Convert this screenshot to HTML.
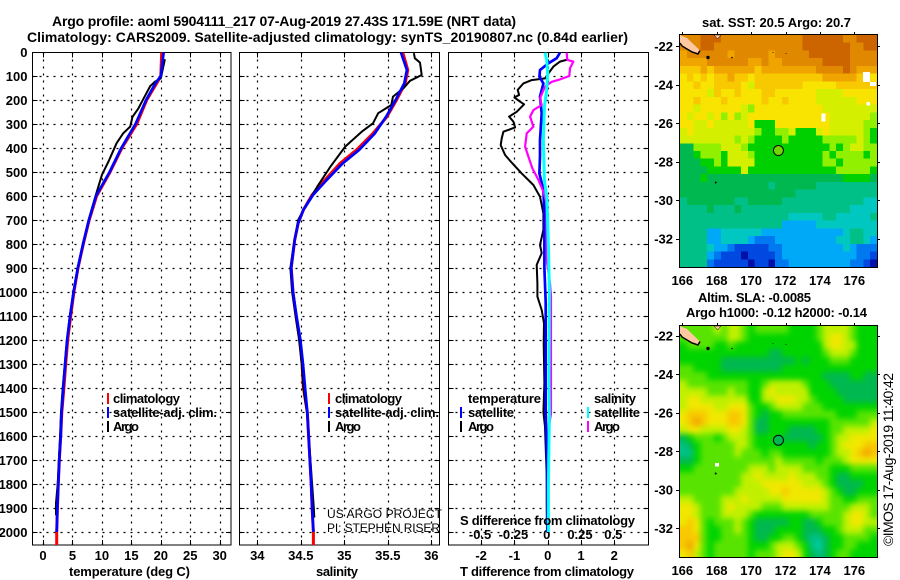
<!DOCTYPE html>
<html lang="en">
<head>
<meta charset="utf-8">
<title>Argo profile aoml 5904111_217</title>
<style>
html,body{margin:0;padding:0;background:#fff;}
svg{display:block;}
text{font-family:"Liberation Sans",sans-serif;fill:#000;}
.b{font-weight:bold;font-size:13px;}
.r{font-size:13px;}
</style>
</head>
<body>
<svg id="chart" xmlns="http://www.w3.org/2000/svg" width="900" height="580" viewBox="0 0 900 580">
  <rect width="900" height="580" fill="#fff"/>
  <defs>
    <clipPath id="clip-temp"><rect x="32.5" y="52.5" width="198.5" height="492.5"/></clipPath>
    <clipPath id="clip-sal"><rect x="239.5" y="52.5" width="200" height="492.5"/></clipPath>
    <clipPath id="clip-diff"><rect x="448.5" y="52.5" width="200" height="492.5"/></clipPath>
    <clipPath id="clip-map-sst"><rect x="680" y="35" width="197" height="232"/></clipPath>
    <clipPath id="clip-map-sla"><rect x="680" y="326" width="197" height="231"/></clipPath>
    <filter id="soft" x="-5%" y="-5%" width="110%" height="110%" color-interpolation-filters="sRGB"><feGaussianBlur stdDeviation="3"/></filter>
  </defs>
  <text class="b" x="52" y="26" style="font-size:14px" textLength="464">Argo profile: aoml 5904111_217 07-Aug-2019 27.43S 171.59E (NRT data)</text>
  <text class="b" x="27" y="42" style="font-size:14px" textLength="601">Climatology: CARS2009. Satellite-adjusted climatology: synTS_20190807.nc (0.84d earlier)</text>

  <g id="grids"></g>
  <g id="lines"></g>
  <g id="maps"></g>

  <text class="b" x="69" y="576" textLength="121">temperature (deg C)</text>
  <text class="b" x="316" y="576" textLength="42">salinity</text>
  <text class="b" x="460" y="576" textLength="174">T difference from climatology</text>
  <text class="b" x="460" y="525" textLength="175">S difference from climatology</text>

  <g>
    <rect x="107" y="393" width="2" height="11" fill="#f00"/>
    <text class="b" x="113" y="403" textLength="67">climatology</text>
    <rect x="107" y="407" width="2" height="11" fill="#00f"/>
    <text class="b" x="113" y="417" textLength="104">satellite-adj. clim.</text>
    <rect x="107" y="421" width="2" height="11" fill="#000"/>
    <text class="b" x="113" y="431" textLength="26">Argo</text>
  </g>
  <g>
    <rect x="328" y="393" width="2" height="11" fill="#f00"/>
    <text class="b" x="335" y="403" textLength="67">climatology</text>
    <rect x="328" y="407" width="2" height="11" fill="#00f"/>
    <text class="b" x="335" y="417" textLength="104">satellite-adj. clim.</text>
    <rect x="328" y="421" width="2" height="11" fill="#000"/>
    <text class="b" x="335" y="431" textLength="26">Argo</text>
  </g>
  <g>
    <text class="b" x="468" y="403" textLength="73">temperature</text>
    <text class="b" x="594" y="403" textLength="42">salinity</text>
    <rect x="460" y="407" width="2" height="11" fill="#00f"/>
    <text class="b" x="468" y="417" textLength="46">satellite</text>
    <rect x="460" y="421" width="2" height="11" fill="#000"/>
    <text class="b" x="468" y="431" textLength="26">Argo</text>
    <rect x="587" y="407" width="2" height="11" fill="#0ff"/>
    <text class="b" x="594" y="417" textLength="46">satellite</text>
    <rect x="587" y="421" width="2" height="11" fill="#f0f"/>
    <text class="b" x="594" y="431" textLength="26">Argo</text>
  </g>
  <text class="r" style="font-size:12px" x="327" y="518" textLength="115">US ARGO PROJECT</text>
  <text class="r" style="font-size:12px" x="327" y="532" textLength="113">PI: STEPHEN RISER</text>

  <text class="b" x="702" y="27" textLength="149">sat. SST: 20.5 Argo: 20.7</text>
  <text class="b" x="698" y="302" textLength="113">Altim. SLA: -0.0085</text>
  <text class="b" x="686" y="317" textLength="181">Argo h1000: -0.12 h2000: -0.14</text>
  <text class="r" style="font-size:14px" transform="translate(893 546) rotate(-90)" x="0" y="0" textLength="173">©IMOS 17-Aug-2019 11:40:42</text>
</svg>
<script>
/* ---------- profile data ---------- */
const tempDepthArgo = [30,110,124,142,193,235,270,311,339,380,457,512,610,700,800,900,1000,1100,1200,1300,1400,1500,1600,1700,1800,1880,1930];
const tempArgo = [20.7,20.0,19.0,18.2,17.1,16.2,15.2,14.8,13.6,12.5,11.1,10.0,8.8,7.75,6.75,5.9,5.15,4.55,4.05,3.7,3.35,3.05,2.9,2.7,2.5,2.2,2.2];
const tempDepthClim = [0,100,130,200,300,400,500,600,700,800,900,1000,1100,1200,1300,1400,1500,1600,1700,1800,1900,2000,2054];
const tempClim = [20.15,20.0,19.3,17.6,15.9,13.4,11.4,9.1,7.85,6.85,5.95,5.25,4.7,4.2,3.85,3.55,3.2,3.0,2.77,2.6,2.45,2.33,2.33];
const tempDepthSat = [0,100,130,200,300,400,500,600,700,800,900,1000,1100,1200,1300,1400,1500,1600,1700,1800,1900,2000];
const tempSat = [20.5,20.0,19.1,17.5,15.7,13.3,11.3,9.0,7.8,6.8,5.9,5.2,4.6,4.1,3.75,3.45,3.15,3.0,2.77,2.6,2.45,2.33];

const salDepthArgo = [5,26,44,96,120,151,186,221,255,297,332,394,478,561,645,700,800,900,1000,1100,1200,1300,1400,1500,1600,1700,1800,1900,1940];
const salArgo = [35.80,35.81,35.87,35.89,35.755,35.68,35.56,35.54,35.39,35.33,35.2,35.01,34.84,34.69,34.55,34.47,34.42,34.38,34.40,34.44,34.48,34.51,34.53,34.57,34.59,34.61,34.63,34.65,34.655];
const salDepthClim = [0,75,130,200,270,339,408,464,540,596,658,713,783,900,1000,1100,1200,1300,1400,1500,1600,1700,1800,1900,2000,2054];
const salClim = [35.67,35.73,35.70,35.60,35.49,35.33,35.14,34.95,34.76,34.63,34.53,34.47,34.43,34.39,34.41,34.445,34.49,34.515,34.53,34.575,34.59,34.605,34.62,34.63,34.645,34.645];
const salDepthSat = [0,75,130,200,270,339,408,464,540,596,658,713,783,900,1000,1100,1200,1300,1400,1500,1600,1700,1800,1900,2000];
const salSat = [35.65,35.72,35.69,35.59,35.48,35.35,35.17,34.98,34.78,34.64,34.53,34.47,34.43,34.39,34.41,34.45,34.495,34.525,34.55,34.575,34.59,34.605,34.62,34.63,34.645];

const diffDepthTArgo = [31,40,61,89,110,117,131,158,179,189,207,218,249,269,290,314,332,360,388,429,461,506,554,603,672,741,804,838,887,964,1019,1075,1130,1214,1380,1500,1561,1610,1763,1900,2000];
const diffTArgo = [0.62,0.37,0.17,0.02,-0.08,-0.48,-0.73,-0.9,-0.86,-1.0,-0.83,-0.71,-0.93,-1.16,-1.03,-0.98,-1.33,-1.38,-1.41,-1.28,-1.08,-0.78,-0.43,-0.23,-0.13,-0.13,-0.23,-0.18,-0.33,-0.31,-0.31,-0.18,-0.11,-0.12,-0.10,-0.13,-0.08,-0.07,-0.03,-0.03,-0.02];
const diffDepthTSat = [3,26,47,75,103,131,186,256,367,436,506,575,672,783,900,1044,1214,1500,1714,1900,2000];
const diffTSat = [0.37,0.27,0.02,-0.23,-0.25,-0.13,-0.23,-0.18,-0.23,-0.23,-0.25,-0.13,-0.10,-0.10,-0.10,-0.06,-0.06,-0.06,-0.02,-0.01,-0.01];
const diffDepthSArgo = [3,33,40,68,100,114,124,144,193,221,242,269,311,339,394,436,485,533,582,631,867,964,1019,1380,1506,1560,1700];
const diffSArgo = [0.1425,0.1475,0.1925,0.1675,0.1625,0.0925,0.03,-0.02,-0.0575,-0.045,-0.1075,-0.1325,-0.1075,-0.1575,-0.17,-0.145,-0.115,-0.07,-0.0325,-0.0075,-0.0075,0.0175,0.025,0.025,0.025,0.01,0.005];
const diffDepthSSat = [3,33,89,158,228,367,533,617,805,1000,1380,1506,1800,2000];
const diffSSat = [-0.02,-0.0075,0,-0.0075,-0.025,-0.0325,-0.025,-0.005,0.005,0.0125,0.01,0.0125,0.005,0.005];

const depthTicks = [0,100,200,300,400,500,600,700,800,900,1000,1100,1200,1300,1400,1500,1600,1700,1800,1900,2000];
const tempTicks = [0,5,10,15,20,25,30];
const salTicks = [34,34.5,35,35.5,36];
const salTickLabels = ["34","34.5","35","35.5","36"];
const diffTTicks = [-2,-1,0,1,2];
const diffSTicks = [-0.5,-0.25,0,0.25,0.5];
const diffSTickLabels = ["-0.5","-0.25","0","0.25","0.5"];
const lonTicks = [166,168,170,172,174,176];
const latTicks = [-22,-24,-26,-28,-30,-32];

/* ---------- map data: colour-level values per cell ---------- */
const sstGrid = [
[13,13,13,14,14,14,13,13,13,13,13,13,13,13,13,13,13,13,14,14,14,14,14,14,13,13,14,14,14],
[13,13,13,14,14,13,13,13,13,13,13,13,13,13,13,13,13,13,14,14,14,14,14,14,14,13,13,14,14],
[12,13,13,13,13,13,13,12,13,13,13,13,13,12,13,13,13,13,13,14,14,14,14,14,14,13,13,13,13],
[12,12,12,12,13,13,13,13,13,13,12,12,13,12,12,13,13,13,13,13,13,14,14,14,14,13,13,13,13],
[11,11,11,12,11,12,12,12,12,12,12,11,12,12,12,12,12,12,12,12,13,13,13,13,14,13,12,12,12],
[10,11,10,11,10,11,11,12,11,11,10,11,11,11,11,11,11,11,11,11,11,12,12,12,12,12,11,11,10],
[10,10,11,10,10,11,11,11,11,10,9,11,11,11,11,11,11,11,10,10,10,10,10,11,11,11,11,11,11],
[10,10,10,10,9,11,10,10,11,10,10,10,11,11,10,10,10,10,10,10,9,9,9,9,10,10,10,10,10],
[10,10,11,10,10,10,11,10,10,10,10,10,11,10,10,11,10,10,10,10,9,9,9,9,9,9,10,10,10],
[10,10,9,10,10,10,10,10,10,9,8,10,10,10,10,10,10,10,10,10,10,9,9,9,9,9,9,9,9],
[10,9,10,10,9,10,8,10,8,9,10,10,10,10,10,10,10,10,10,10,10,10,9,9,9,9,9,9,8],
[10,10,9,9,10,9,9,9,9,9,10,7,7,7,10,10,10,10,10,10,10,10,9,9,9,9,9,8,8],
[9,10,9,9,9,9,9,9,9,9,9,8,7,7,8,8,9,7,7,7,9,10,9,9,9,9,9,8,7],
[9,9,9,9,9,9,9,9,8,9,8,7,7,7,7,8,7,7,7,7,7,8,8,8,8,8,9,8,7],
[6,6,8,8,8,8,9,9,9,8,7,7,7,7,7,7,7,7,7,7,7,7,8,7,8,9,9,8,8],
[6,6,7,8,8,8,7,9,9,9,8,7,7,7,7,7,7,7,7,7,7,8,7,8,8,8,8,7,8],
[6,6,6,7,7,8,7,9,9,9,9,7,7,7,7,7,7,7,7,7,7,8,8,7,8,8,8,8,8],
[6,6,6,6,7,7,7,7,7,9,7,7,7,7,7,7,7,7,7,7,7,7,7,8,8,8,8,8,7],
[6,6,6,7,6,6,6,6,6,6,6,6,6,6,6,6,6,6,6,6,6,6,6,6,7,7,7,7,6],
[6,6,6,6,6,6,6,6,6,6,6,6,6,5,6,6,6,6,6,6,5,5,5,5,5,5,5,5,5],
[6,6,6,6,6,6,6,6,6,6,6,6,6,6,6,6,6,5,5,5,5,5,5,5,5,5,5,5,5],
[5,6,6,6,6,6,6,6,5,5,6,6,6,6,6,5,5,5,5,5,5,5,5,5,5,5,5,4,4],
[5,5,5,5,6,5,5,5,6,5,5,5,5,5,5,5,5,5,5,5,5,5,5,5,5,4,4,4,4],
[5,5,5,5,5,5,5,5,5,5,5,5,5,5,5,5,4,4,4,4,4,5,5,4,4,4,4,4,5],
[5,5,5,5,5,5,5,5,5,5,5,5,5,5,5,3,3,3,3,3,4,4,4,4,4,4,4,4,4],
[5,5,5,5,3,3,4,4,4,4,4,4,3,3,3,3,3,3,3,3,3,3,3,3,4,5,5,4,4],
[5,5,5,5,3,3,4,4,4,4,3,2,2,2,3,3,3,3,3,3,3,3,3,4,4,5,5,4,3],
[5,5,5,5,4,3,3,2,1,1,1,1,1,2,2,3,3,3,3,3,3,3,3,3,4,3,2,2,2],
[5,5,5,5,3,2,1,1,1,0,1,1,1,1,2,3,3,3,3,3,3,3,3,3,3,3,2,2,1],
[5,5,5,5,2,1,1,1,1,1,0,1,1,0,2,2,3,3,3,3,3,3,3,3,3,2,2,1,0]
];
const slaGrid = [
[8,8,8,8,8,9,8,9,9,8,7,8,8,8,8,8,7,7,7,7,8,9,9,9,9,8,7,7,7],
[8,8,8,8,8,8,8,9,9,8,7,7,7,7,7,7,7,7,7,7,8,9,10,10,9,8,7,7,7],
[7,8,8,8,8,7,7,8,7,7,7,7,7,7,7,7,7,7,7,7,7,9,10,10,9,9,7,7,7],
[7,7,7,7,7,7,7,7,7,7,7,7,7,6,6,7,7,7,7,7,7,8,9,9,9,8,7,7,7],
[7,7,7,7,7,7,6,6,6,6,6,6,6,6,6,6,6,7,6,7,7,7,8,8,8,7,7,7,7],
[8,8,7,7,7,7,6,6,6,6,6,6,6,6,6,7,7,7,7,7,7,7,7,7,7,7,7,7,7],
[8,8,8,8,7,7,7,7,7,7,7,7,7,7,7,7,7,7,7,7,7,6,6,6,6,7,7,6,6],
[9,8,8,8,8,8,8,8,8,8,7,7,8,9,9,9,9,9,8,7,7,7,6,6,6,6,6,6,6],
[9,9,9,9,8,8,8,9,8,8,7,7,9,10,9,9,9,9,9,7,7,7,7,6,6,6,6,6,6],
[9,10,10,9,9,9,9,9,9,9,7,7,9,9,10,10,10,9,9,8,7,7,7,7,6,6,6,6,6],
[9,10,10,10,10,9,9,10,10,10,8,7,7,8,9,9,9,9,8,8,8,7,7,7,7,7,7,7,7],
[10,11,11,11,10,10,10,11,11,10,8,7,6,7,7,8,8,8,8,8,8,8,8,7,7,7,8,8,8],
[10,11,12,11,10,10,10,11,11,10,8,6,6,7,7,7,7,7,7,7,7,7,8,8,8,8,8,8,9],
[9,10,10,9,9,9,9,10,10,9,8,6,6,7,7,7,6,6,6,6,7,7,8,8,9,9,9,9,10],
[6,7,8,8,8,7,8,9,9,9,8,7,7,7,7,6,6,6,6,6,6,7,8,9,9,10,10,10,10],
[5,6,7,8,8,8,8,8,9,9,8,7,7,7,7,7,7,7,7,6,7,7,8,9,10,10,10,11,11],
[5,5,7,8,8,8,8,8,9,8,8,8,7,8,8,7,7,7,7,7,7,7,8,9,9,10,11,12,11],
[6,6,7,8,8,8,8,8,8,8,8,8,8,8,9,8,8,8,8,8,7,8,8,8,9,10,10,10,10],
[7,7,8,8,8,8,8,8,8,8,9,9,9,8,9,9,9,9,8,8,8,8,7,7,7,8,8,8,8],
[8,8,8,8,8,8,8,8,8,9,9,10,9,9,9,9,10,9,9,9,8,8,7,6,6,7,7,7,7],
[8,8,8,8,8,8,8,8,8,9,9,9,10,10,10,10,10,10,9,9,9,8,7,6,6,6,6,7,7],
[8,8,8,8,8,8,8,8,9,9,9,9,9,10,10,11,10,10,10,10,10,9,8,7,6,6,7,7,7],
[9,9,8,8,8,8,9,9,9,10,9,9,9,9,9,10,10,10,10,10,10,9,8,8,7,7,8,8,8],
[10,10,9,8,8,8,9,10,9,9,9,9,8,8,8,9,9,9,9,9,9,9,8,8,8,9,9,9,8],
[10,10,9,8,8,8,9,9,9,9,8,7,7,7,7,7,7,7,7,8,8,8,8,8,9,10,10,9,8],
[10,11,10,8,7,8,8,8,9,8,7,6,6,6,6,6,7,7,6,6,7,8,8,8,9,10,10,9,9],
[11,11,10,8,7,7,8,8,9,8,7,6,6,6,7,7,7,7,6,6,6,7,7,8,9,9,9,8,8],
[11,11,11,8,7,7,8,8,8,8,7,6,6,7,7,8,8,7,6,5,5,6,7,7,8,8,8,8,7],
[11,12,10,8,7,8,8,8,8,8,7,7,7,8,9,9,9,8,7,5,4,6,7,7,8,8,7,7,7],
[10,11,9,8,7,8,8,8,8,8,7,8,8,8,9,10,10,9,7,6,5,6,7,8,8,7,7,7,7]
];
const sstColors = ["#0010a8","#0048e0","#0078f0","#00a8f8","#00c8c0","#00c088","#00b850","#00d000","#90f000","#d4f000","#f8e400","#f8c800","#f0a400","#e08800","#cc6400"];
const slaColors = ["#0010a8","#0048e0","#0078f0","#00a8f8","#00d0a8","#00c088","#00b850","#00d400","#58e400","#c0f000","#f0e800","#f8c800","#f0a400","#e08800","#cc6400"];
/* cloud gaps in the SST field: [west lon, north lat, lon extent, lat extent] */
const sstGaps = [[176.5,-23.35,0.4,0.52],[176.9,-23.87,0.35,0.2],[176.72,-24.9,0.18,0.2],[174.1,-25.5,0.23,0.42]];
const slaGaps = [[167.9,-28.6,0.22,0.2]];

/* ---------- axis functions ---------- */
const NS = "http://www.w3.org/2000/svg";
const depthY = d => 52 + d * 0.24;
const tempX = t => 43 + t * 5.89;
const salX = s => 257.3 + (s - 34) * 87;
const diffTX = t => 547.7 + t * 33.3;
const diffSX = s => 547.7 + s * 133.2;

const grids = document.getElementById("grids");
const lines = document.getElementById("lines");
const maps = document.getElementById("maps");

function make(tag, attrs, parent) {
  const el = document.createElementNS(NS, tag);
  for (const k in attrs) el.setAttribute(k, attrs[k]);
  parent.appendChild(el);
  return el;
}

function drawPanel(left, right, xPositions, xLabels, labelDepths) {
  const top = 52.5, bottom = 545;
  const g = make("g", {}, grids);
  
  
  depthTicks.forEach(d => {
    const y = Math.round(depthY(d)) + 0.5;
    if (d > 0) {
      const gl = make("line", {x1:left, x2:right, y1:y, y2:y, stroke:"#000", "stroke-width":1.2, "stroke-dasharray":"2 5"}, g);
      
      
      const t1 = make("line", {x1:left, x2:left+5, y1:y, y2:y, stroke:"#000", "shape-rendering":"crispEdges"}, g);
      
      
      const t2 = make("line", {x1:right-5, x2:right, y1:y, y2:y, stroke:"#000", "shape-rendering":"crispEdges"}, g);
      
      
    }
    if (labelDepths) {
      const lb = make("text", {x:27.5, y:depthY(d)+5, "text-anchor":"end", class:"b"}, g);
      
      
      lb.textContent = String(d);
    }
  });
  xPositions.forEach((x, i) => {
    const px = Math.round(x) + 0.5;
    const gl = make("line", {x1:px, x2:px, y1:top, y2:bottom, stroke:"#000", "stroke-width":1.2, "stroke-dasharray":"2 5"}, g);
    
    
    const t1 = make("line", {x1:px, x2:px, y1:bottom-5, y2:bottom, stroke:"#000", "shape-rendering":"crispEdges"}, g);
    
    
    const t2 = make("line", {x1:px, x2:px, y1:top, y2:top+5, stroke:"#000", "shape-rendering":"crispEdges"}, g);
    
    
    const lb = make("text", {x:x, y:560, "text-anchor":"middle", class:"b"}, g);
    
    
    lb.textContent = xLabels[i];
  });
  const frame = make("rect", {x:left, y:top, width:right-left, height:bottom-top, fill:"none", stroke:"#000", "stroke-width":1, "shape-rendering":"crispEdges"}, g);
  
  
}

function drawSeries(name, depths, values, xFn, color, width, clip) {
  const pts = depths.map((d, i) => xFn(values[i]).toFixed(1) + "," + depthY(d).toFixed(1)).join(" ");
  const el = make("polyline", {points:pts, fill:"none", stroke:color, "stroke-width":width, "clip-path":"url(#"+clip+")", "stroke-linejoin":"round"}, lines);
  
  
}

drawPanel(32.5, 231, tempTicks.map(tempX), tempTicks.map(String), true);
drawPanel(239.5, 439.5, salTicks.map(salX), salTickLabels, false);
drawPanel(448.5, 648.5, diffTTicks.map(diffTX), diffTTicks.map(String), false);

diffSTicks.forEach((s, i) => {
  const lb = make("text", {x:diffSX(s)-1, y:539, "text-anchor":"middle", class:"b"}, grids);
  
  
  lb.textContent = diffSTickLabels[i];
});

drawSeries("temperature-climatology-line", tempDepthClim, tempClim, tempX, "#f00", 3, "clip-temp");
drawSeries("temperature-argo-line", tempDepthArgo, tempArgo, tempX, "#000", 2, "clip-temp");
drawSeries("temperature-satellite-line", tempDepthSat, tempSat, tempX, "#00f", 2.7, "clip-temp");

drawSeries("salinity-climatology-line", salDepthClim, salClim, salX, "#f00", 3, "clip-sal");
drawSeries("salinity-argo-line", salDepthArgo, salArgo, salX, "#000", 2, "clip-sal");
drawSeries("salinity-satellite-line", salDepthSat, salSat, salX, "#00f", 2.7, "clip-sal");

drawSeries("t-difference-argo-line", diffDepthTArgo, diffTArgo, diffTX, "#000", 2, "clip-diff");
drawSeries("t-difference-satellite-line", diffDepthTSat, diffTSat, diffTX, "#00f", 2.7, "clip-diff");
drawSeries("s-difference-argo-line", diffDepthSArgo, diffSArgo, diffSX, "#f0f", 2.2, "clip-diff");
drawSeries("s-difference-satellite-line", diffDepthSSat, diffSSat, diffSX, "#0ff", 3, "clip-diff");

/* ---------- maps ---------- */
const mapLeft = 680, mapRight = 877;
const lonX = lon => 682.3 + (lon - 166) * 17.2;
const lonStep = (mapRight - mapLeft) / 17.2 / 29;

function drawMap(name, grid, colors, gaps, top, bottom, lat22Y, markerColor, clipId, smooth) {
  const pxPerDeg = 19.25;
  const latY = lat => lat22Y + (-22 - lat) * pxPerDeg;
  const lonStart = 166 + (mapLeft - 682.3) / 17.2;
  const latStart = -22 - (top - lat22Y) / pxPerDeg;
  const latStep = (bottom - top) / pxPerDeg / grid.length;
  const g = make("g", {}, maps);
  
  
  const clipG = make("g", {"clip-path":"url(#"+clipId+")"}, g);
  
  
  const field = make("g", smooth ? {filter:"url(#soft)"} : {}, clipG);
  
  
  const lastRow = grid.length - 1;
  grid.forEach((row, r) => {
    const lastCol = row.length - 1;
    row.forEach((v, c) => {
      let x0 = lonX(lonStart + c * lonStep), x1 = lonX(lonStart + (c + 1) * lonStep);
      let y0 = latY(latStart - r * latStep), y1 = latY(latStart - (r + 1) * latStep);
      if (c === 0) x0 -= 14;
      if (c === lastCol) x1 += 14;
      if (r === 0) y0 -= 14;
      if (r === lastRow) y1 += 14;
      const cell = make("rect", {x:x0, y:y0, width:x1-x0+0.4, height:y1-y0+0.4, fill:colors[v], "shape-rendering":"crispEdges"}, field);
      
      
    });
  });
  gaps.forEach(b => {
    const gap = make("rect", {x:lonX(b[0]), y:latY(b[1]), width:b[2]*17.2, height:b[3]*pxPerDeg, fill:"#fff", "shape-rendering":"crispEdges"}, clipG);
    
    
  });
  const dy = top - 35;
  const island = make("polygon", {points:`${mapLeft},${35+dy} ${687},${38+dy} ${700},${50.5+dy} ${698},${54+dy} ${692},${52+dy} ${682},${46+dy} ${mapLeft},${43+dy}`, fill:"#ffc8a0"}, clipG);
  
  
  const shore = make("polyline", {points:`${mapLeft},${43+dy} ${682},${46+dy} ${692},${52+dy} ${698},${54+dy} ${700},${50.5+dy}`, fill:"none", stroke:"#000", "stroke-width":1.5}, clipG);
  
  
  const islet = make("polygon", {points:`${714},${top} ${721},${top} ${717.5},${top+4}`, fill:"#ffc8a0", stroke:"#000", "stroke-width":0.5}, clipG);
  
  
  [[708,57.5,1.7],[732,57.5,0.8],[773,52.5,0.5],[786,53.5,0.5],[715.7,182.5,1]].forEach(p => {
    const dot = make("circle", {cx:p[0], cy:p[1]+dy, r:p[2], fill:"#000"}, clipG);
    
    
  });
  const frame = make("rect", {x:mapLeft-0.5, y:top-0.5, width:mapRight-mapLeft+1, height:bottom-top+1, fill:"none", stroke:"#000", "shape-rendering":"crispEdges"}, g);
  
  
  lonTicks.forEach(lon => {
    const x = Math.round(lonX(lon)) + 0.5;
    const t = make("line", {x1:x, x2:x, y1:top-3, y2:top, stroke:"#000", "shape-rendering":"crispEdges"}, g);
    
    
    const lb = make("text", {x:lonX(lon), y:bottom+18, "text-anchor":"middle", class:"b"}, g);
    
    
    lb.textContent = String(lon);
  });
  latTicks.forEach(lat => {
    const y = Math.round(latY(lat)) + 0.5;
    const t1 = make("line", {x1:mapLeft-4, x2:mapLeft, y1:y, y2:y, stroke:"#000", "shape-rendering":"crispEdges"}, g);
    
    
    const t2 = make("line", {x1:mapRight, x2:mapRight+3, y1:y, y2:y, stroke:"#000", "shape-rendering":"crispEdges"}, g);
    
    
    const lb = make("text", {x:673, y:latY(lat)+5, "text-anchor":"end", class:"b"}, g);
    
    
    lb.textContent = String(lat);
  });
  const marker = make("circle", {cx:lonX(171.59), cy:latY(-27.43), r:5, fill:markerColor, stroke:"#000", "stroke-width":1}, g);
  
  
}

drawMap("sst-map", sstGrid, sstColors, sstGaps, 35, 267, 46, "#70d800", "clip-map-sst", false);
drawMap("sla-map", slaGrid, slaColors, slaGaps, 326, 557, 335.7, "#00b850", "clip-map-sla", true);
</script>
</body>
</html>
